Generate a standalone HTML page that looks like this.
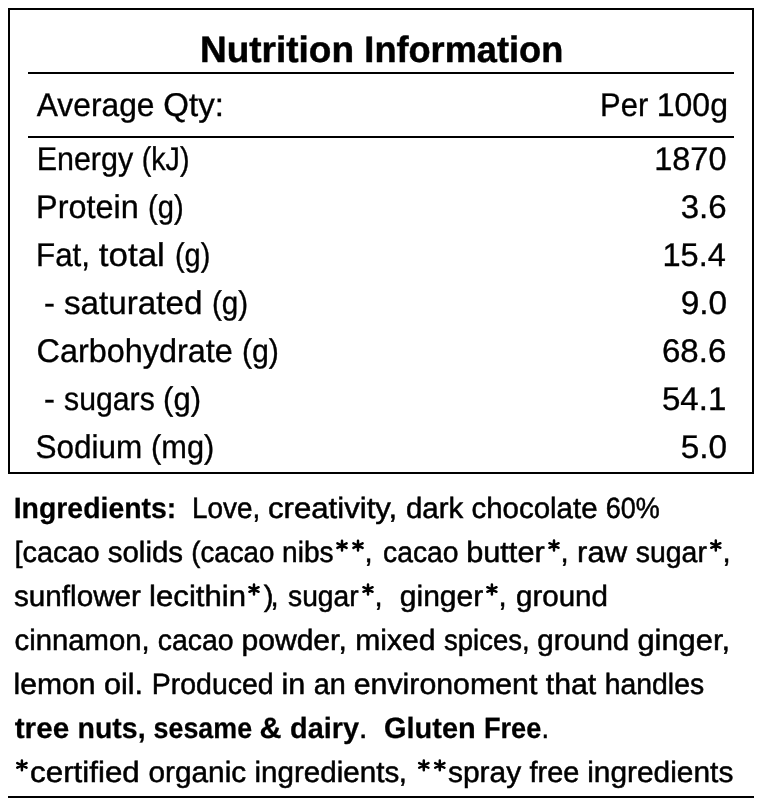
<!DOCTYPE html>
<html><head><meta charset="utf-8"><title>Nutrition Information</title><style>
html,body{margin:0;padding:0;background:#fff;width:764px;height:806px;overflow:hidden}
svg{display:block;will-change:transform}
text{font-family:"Liberation Sans",sans-serif;fill:#000;white-space:pre;text-rendering:geometricPrecision}
</style></head><body>
<svg width="764" height="806" viewBox="0 0 764 806">
<defs><path id="ast" d="M0-4.9V4.9M-4.6-2.3L4.6 2.3M-4.6 2.3L4.6-2.3" fill="none" stroke="#000" stroke-width="2.5" stroke-linecap="round"/></defs>
<rect x="9" y="9" width="744" height="464" fill="none" stroke="#000" stroke-width="2"/>
<rect x="28" y="72" width="706" height="2"/>
<rect x="28" y="136" width="706" height="2"/>
<rect x="8" y="796" width="746" height="2"/>
<text id="title_0" x="199.98" y="62.00" font-size="36.7" font-weight="bold" textLength="154.02" lengthAdjust="spacingAndGlyphs" stroke="#000" stroke-width="0.5">Nutrition</text>
<text id="title_1" x="364.33" y="62.00" font-size="36.7" font-weight="bold" textLength="198.91" lengthAdjust="spacingAndGlyphs" stroke="#000" stroke-width="0.5">Information</text>
<text id="avg_0" x="36.75" y="116.00" font-size="32.8" textLength="117.71" lengthAdjust="spacingAndGlyphs" stroke="#000" stroke-width="0.35">Average</text>
<text id="avg_1" x="163.24" y="116.00" font-size="32.8" textLength="60.62" lengthAdjust="spacingAndGlyphs" stroke="#000" stroke-width="0.35">Qty:</text>
<text id="per_0" x="600.11" y="116.00" font-size="32.8" textLength="48.16" lengthAdjust="spacingAndGlyphs" stroke="#000" stroke-width="0.35">Per</text>
<text id="per_1" x="656.80" y="116.00" font-size="32.8" textLength="71.12" lengthAdjust="spacingAndGlyphs" stroke="#000" stroke-width="0.35">100g</text>
<text id="en_0" x="36.64" y="169.80" font-size="32.8" textLength="96.54" lengthAdjust="spacingAndGlyphs" stroke="#000" stroke-width="0.35">Energy</text>
<text id="en_1" x="141.75" y="169.80" font-size="32.8" textLength="47.68" lengthAdjust="spacingAndGlyphs" stroke="#000" stroke-width="0.35">(kJ)</text>
<text id="en_v_0" x="654.27" y="169.60" font-size="32.8" textLength="72.19" lengthAdjust="spacingAndGlyphs" stroke="#000" stroke-width="0.35">1870</text>
<text id="pr_0" x="36.02" y="217.70" font-size="32.8" textLength="102.74" lengthAdjust="spacingAndGlyphs" stroke="#000" stroke-width="0.35">Protein</text>
<text id="pr_1" x="147.97" y="217.70" font-size="32.8" textLength="35.64" lengthAdjust="spacingAndGlyphs" stroke="#000" stroke-width="0.35">(g)</text>
<text id="pr_v_0" x="680.74" y="217.70" font-size="32.8" textLength="45.86" lengthAdjust="spacingAndGlyphs" stroke="#000" stroke-width="0.35">3.6</text>
<text id="fat_0" x="36.09" y="265.70" font-size="32.8" textLength="53.95" lengthAdjust="spacingAndGlyphs" stroke="#000" stroke-width="0.35">Fat,</text>
<text id="fat_1" x="98.75" y="265.70" font-size="32.8" textLength="66.15" lengthAdjust="spacingAndGlyphs" stroke="#000" stroke-width="0.35">total</text>
<text id="fat_2" x="174.99" y="265.70" font-size="32.8" textLength="35.36" lengthAdjust="spacingAndGlyphs" stroke="#000" stroke-width="0.35">(g)</text>
<text id="fat_v_0" x="662.52" y="265.70" font-size="32.8" textLength="63.32" lengthAdjust="spacingAndGlyphs" stroke="#000" stroke-width="0.35">15.4</text>
<text id="sat_0" x="44.00" y="313.70" font-size="32.8" textLength="10.90" lengthAdjust="spacingAndGlyphs" stroke="#000" stroke-width="0.35">-</text>
<text id="sat_1" x="63.99" y="313.70" font-size="32.8" textLength="138.51" lengthAdjust="spacingAndGlyphs" stroke="#000" stroke-width="0.35">saturated</text>
<text id="sat_2" x="211.94" y="313.70" font-size="32.8" textLength="36.20" lengthAdjust="spacingAndGlyphs" stroke="#000" stroke-width="0.35">(g)</text>
<text id="sat_v_0" x="680.73" y="313.70" font-size="32.8" textLength="46.39" lengthAdjust="spacingAndGlyphs" stroke="#000" stroke-width="0.35">9.0</text>
<text id="carb_0" x="36.51" y="361.70" font-size="32.8" textLength="196.27" lengthAdjust="spacingAndGlyphs" stroke="#000" stroke-width="0.35">Carbohydrate</text>
<text id="carb_1" x="241.90" y="361.70" font-size="32.8" textLength="37.03" lengthAdjust="spacingAndGlyphs" stroke="#000" stroke-width="0.35">(g)</text>
<text id="carb_v_0" x="661.99" y="361.70" font-size="32.8" textLength="64.36" lengthAdjust="spacingAndGlyphs" stroke="#000" stroke-width="0.35">68.6</text>
<text id="sug_0" x="44.00" y="409.70" font-size="32.8" textLength="10.90" lengthAdjust="spacingAndGlyphs" stroke="#000" stroke-width="0.35">-</text>
<text id="sug_1" x="64.08" y="409.70" font-size="32.8" textLength="90.69" lengthAdjust="spacingAndGlyphs" stroke="#000" stroke-width="0.35">sugars</text>
<text id="sug_2" x="163.11" y="409.70" font-size="32.8" textLength="37.87" lengthAdjust="spacingAndGlyphs" stroke="#000" stroke-width="0.35">(g)</text>
<text id="sug_v_0" x="661.99" y="409.70" font-size="32.8" textLength="64.37" lengthAdjust="spacingAndGlyphs" stroke="#000" stroke-width="0.35">54.1</text>
<text id="sod_0" x="35.58" y="457.70" font-size="32.8" textLength="106.74" lengthAdjust="spacingAndGlyphs" stroke="#000" stroke-width="0.35">Sodium</text>
<text id="sod_1" x="151.12" y="457.70" font-size="32.8" textLength="63.19" lengthAdjust="spacingAndGlyphs" stroke="#000" stroke-width="0.35">(mg)</text>
<text id="sod_v_0" x="680.73" y="457.70" font-size="32.8" textLength="46.39" lengthAdjust="spacingAndGlyphs" stroke="#000" stroke-width="0.35">5.0</text>
<text id="i1_0" x="13.66" y="518.00" font-size="29.3" font-weight="bold" textLength="162.61" lengthAdjust="spacingAndGlyphs" stroke="#000" stroke-width="0.25">Ingredients:</text>
<text id="i1_1" x="192.10" y="518.00" font-size="29.3" textLength="68.20" lengthAdjust="spacingAndGlyphs" stroke="#000" stroke-width="0.5">Love,</text>
<text id="i1_2" x="267.94" y="518.00" font-size="29.3" textLength="129.34" lengthAdjust="spacingAndGlyphs" stroke="#000" stroke-width="0.5">creativity,</text>
<text id="i1_3" x="405.99" y="518.00" font-size="29.3" textLength="57.31" lengthAdjust="spacingAndGlyphs" stroke="#000" stroke-width="0.5">dark</text>
<text id="i1_4" x="471.49" y="518.00" font-size="29.3" textLength="126.07" lengthAdjust="spacingAndGlyphs" stroke="#000" stroke-width="0.5">chocolate</text>
<text id="i1_5" x="605.83" y="518.00" font-size="29.3" textLength="54.01" lengthAdjust="spacingAndGlyphs" stroke="#000" stroke-width="0.5">60%</text>
<text id="i2_0" x="14.53" y="561.90" font-size="29.3" textLength="85.20" lengthAdjust="spacingAndGlyphs" stroke="#000" stroke-width="0.5">[cacao</text>
<text id="i2_1" x="107.74" y="561.90" font-size="29.3" textLength="75.31" lengthAdjust="spacingAndGlyphs" stroke="#000" stroke-width="0.5">solids</text>
<text id="i2_2" x="191.30" y="561.90" font-size="29.3" textLength="83.11" lengthAdjust="spacingAndGlyphs" stroke="#000" stroke-width="0.5">(cacao</text>
<text id="i2_3" x="282.09" y="561.90" font-size="29.3" textLength="51.43" lengthAdjust="spacingAndGlyphs" stroke="#000" stroke-width="0.5">nibs</text>
<text id="i2_4" x="364.60" y="561.90" font-size="29.3" textLength="8.14" lengthAdjust="spacingAndGlyphs" stroke="#000" stroke-width="0.5">,</text>
<text id="i2_5" x="383.04" y="561.90" font-size="29.3" textLength="75.43" lengthAdjust="spacingAndGlyphs" stroke="#000" stroke-width="0.5">cacao</text>
<text id="i2_6" x="466.15" y="561.90" font-size="29.3" textLength="78.57" lengthAdjust="spacingAndGlyphs" stroke="#000" stroke-width="0.5">butter</text>
<text id="i2_7" x="560.60" y="561.90" font-size="29.3" textLength="8.14" lengthAdjust="spacingAndGlyphs" stroke="#000" stroke-width="0.5">,</text>
<text id="i2_8" x="577.13" y="561.90" font-size="29.3" textLength="49.95" lengthAdjust="spacingAndGlyphs" stroke="#000" stroke-width="0.5">raw</text>
<text id="i2_9" x="635.78" y="561.90" font-size="29.3" textLength="71.11" lengthAdjust="spacingAndGlyphs" stroke="#000" stroke-width="0.5">sugar</text>
<text id="i2_10" x="722.40" y="561.90" font-size="29.3" textLength="8.14" lengthAdjust="spacingAndGlyphs" stroke="#000" stroke-width="0.5">,</text>
<text id="i3_0" x="13.99" y="605.80" font-size="29.3" textLength="126.99" lengthAdjust="spacingAndGlyphs" stroke="#000" stroke-width="0.5">sunflower</text>
<text id="i3_1" x="149.12" y="605.80" font-size="29.3" textLength="96.96" lengthAdjust="spacingAndGlyphs" stroke="#000" stroke-width="0.5">lecithin</text>
<text id="i3_2" x="263.80" y="605.80" font-size="29.3" textLength="9.77" lengthAdjust="spacingAndGlyphs" stroke="#000" stroke-width="0.5">)</text>
<text id="i3_3" x="270.40" y="605.80" font-size="29.3" textLength="8.14" lengthAdjust="spacingAndGlyphs" stroke="#000" stroke-width="0.5">,</text>
<text id="i3_4" x="288.04" y="605.80" font-size="29.3" textLength="70.65" lengthAdjust="spacingAndGlyphs" stroke="#000" stroke-width="0.5">sugar</text>
<text id="i3_5" x="374.60" y="605.80" font-size="29.3" textLength="8.14" lengthAdjust="spacingAndGlyphs" stroke="#000" stroke-width="0.5">,</text>
<text id="i3_6" x="399.72" y="605.80" font-size="29.3" textLength="83.64" lengthAdjust="spacingAndGlyphs" stroke="#000" stroke-width="0.5">ginger</text>
<text id="i3_7" x="498.40" y="605.80" font-size="29.3" textLength="8.14" lengthAdjust="spacingAndGlyphs" stroke="#000" stroke-width="0.5">,</text>
<text id="i3_8" x="515.99" y="605.80" font-size="29.3" textLength="92.00" lengthAdjust="spacingAndGlyphs" stroke="#000" stroke-width="0.5">ground</text>
<text id="i4_0" x="14.50" y="649.70" font-size="29.3" textLength="135.11" lengthAdjust="spacingAndGlyphs" stroke="#000" stroke-width="0.5">cinnamon,</text>
<text id="i4_1" x="157.78" y="649.70" font-size="29.3" textLength="75.88" lengthAdjust="spacingAndGlyphs" stroke="#000" stroke-width="0.5">cacao</text>
<text id="i4_2" x="241.45" y="649.70" font-size="29.3" textLength="105.39" lengthAdjust="spacingAndGlyphs" stroke="#000" stroke-width="0.5">powder,</text>
<text id="i4_3" x="355.19" y="649.70" font-size="29.3" textLength="80.40" lengthAdjust="spacingAndGlyphs" stroke="#000" stroke-width="0.5">mixed</text>
<text id="i4_4" x="444.06" y="649.70" font-size="29.3" textLength="85.61" lengthAdjust="spacingAndGlyphs" stroke="#000" stroke-width="0.5">spices,</text>
<text id="i4_5" x="537.24" y="649.70" font-size="29.3" textLength="92.04" lengthAdjust="spacingAndGlyphs" stroke="#000" stroke-width="0.5">ground</text>
<text id="i4_6" x="637.45" y="649.70" font-size="29.3" textLength="92.63" lengthAdjust="spacingAndGlyphs" stroke="#000" stroke-width="0.5">ginger,</text>
<text id="i5_0" x="13.54" y="694.00" font-size="29.3" textLength="82.06" lengthAdjust="spacingAndGlyphs" stroke="#000" stroke-width="0.5">lemon</text>
<text id="i5_1" x="103.95" y="694.00" font-size="29.3" textLength="39.19" lengthAdjust="spacingAndGlyphs" stroke="#000" stroke-width="0.5">oil.</text>
<text id="i5_2" x="151.81" y="694.00" font-size="29.3" textLength="121.84" lengthAdjust="spacingAndGlyphs" stroke="#000" stroke-width="0.5">Produced</text>
<text id="i5_3" x="281.41" y="694.00" font-size="29.3" textLength="23.80" lengthAdjust="spacingAndGlyphs" stroke="#000" stroke-width="0.5">in</text>
<text id="i5_4" x="313.77" y="694.00" font-size="29.3" textLength="32.01" lengthAdjust="spacingAndGlyphs" stroke="#000" stroke-width="0.5">an</text>
<text id="i5_5" x="353.72" y="694.00" font-size="29.3" textLength="183.61" lengthAdjust="spacingAndGlyphs" stroke="#000" stroke-width="0.5">environoment</text>
<text id="i5_6" x="545.75" y="694.00" font-size="29.3" textLength="50.52" lengthAdjust="spacingAndGlyphs" stroke="#000" stroke-width="0.5">that</text>
<text id="i5_7" x="604.82" y="694.00" font-size="29.3" textLength="99.29" lengthAdjust="spacingAndGlyphs" stroke="#000" stroke-width="0.5">handles</text>
<text id="i6_0" x="14.70" y="737.80" font-size="29.3" font-weight="bold" textLength="54.52" lengthAdjust="spacingAndGlyphs" stroke="#000" stroke-width="0.25">tree</text>
<text id="i6_1" x="77.56" y="737.80" font-size="29.3" font-weight="bold" textLength="68.06" lengthAdjust="spacingAndGlyphs" stroke="#000" stroke-width="0.25">nuts,</text>
<text id="i6_2" x="153.58" y="737.80" font-size="29.3" font-weight="bold" textLength="98.54" lengthAdjust="spacingAndGlyphs" stroke="#000" stroke-width="0.25">sesame</text>
<text id="i6_3" x="259.46" y="737.80" font-size="29.3" font-weight="bold" textLength="22.03" lengthAdjust="spacingAndGlyphs" stroke="#000" stroke-width="0.25">&amp;</text>
<text id="i6_4" x="290.01" y="737.80" font-size="29.3" font-weight="bold" textLength="69.01" lengthAdjust="spacingAndGlyphs" stroke="#000" stroke-width="0.25">dairy</text>
<text id="i6_5" x="358.95" y="737.80" font-size="29.3" textLength="8.34" lengthAdjust="spacingAndGlyphs" stroke="#000" stroke-width="0.5">.</text>
<text id="i6_6" x="384.01" y="737.80" font-size="29.3" font-weight="bold" textLength="91.71" lengthAdjust="spacingAndGlyphs" stroke="#000" stroke-width="0.25">Gluten</text>
<text id="i6_7" x="483.89" y="737.80" font-size="29.3" font-weight="bold" textLength="57.53" lengthAdjust="spacingAndGlyphs" stroke="#000" stroke-width="0.25">Free</text>
<text id="i6_8" x="541.42" y="737.80" font-size="29.3" textLength="7.57" lengthAdjust="spacingAndGlyphs" stroke="#000" stroke-width="0.5">.</text>
<text id="i7_0" x="30.13" y="781.50" font-size="29.3" textLength="109.60" lengthAdjust="spacingAndGlyphs" stroke="#000" stroke-width="0.5">certified</text>
<text id="i7_1" x="148.48" y="781.50" font-size="29.3" textLength="97.71" lengthAdjust="spacingAndGlyphs" stroke="#000" stroke-width="0.5">organic</text>
<text id="i7_2" x="254.48" y="781.50" font-size="29.3" textLength="144.75" lengthAdjust="spacingAndGlyphs" stroke="#000" stroke-width="0.5">ingredients</text>
<text id="i7_3" x="398.75" y="781.50" font-size="29.3" textLength="8.14" lengthAdjust="spacingAndGlyphs" stroke="#000" stroke-width="0.5">,</text>
<text id="i7_4" x="447.98" y="781.50" font-size="29.3" textLength="73.20" lengthAdjust="spacingAndGlyphs" stroke="#000" stroke-width="0.5">spray</text>
<text id="i7_5" x="529.50" y="781.50" font-size="29.3" textLength="49.76" lengthAdjust="spacingAndGlyphs" stroke="#000" stroke-width="0.5">free</text>
<text id="i7_6" x="587.21" y="781.50" font-size="29.3" textLength="146.12" lengthAdjust="spacingAndGlyphs" stroke="#000" stroke-width="0.5">ingredients</text>
<use href="#ast" x="342" y="545.6"/>
<use href="#ast" x="358" y="545.6"/>
<use href="#ast" x="554" y="545.5"/>
<use href="#ast" x="715.8" y="545.5"/>
<use href="#ast" x="254" y="589.5"/>
<use href="#ast" x="368" y="589.5"/>
<use href="#ast" x="491.9" y="589.5"/>
<use href="#ast" x="21.9" y="765.4"/>
<use href="#ast" x="423.8" y="765.45"/>
<use href="#ast" x="439.8" y="765.45"/>
</svg>
</body></html>
